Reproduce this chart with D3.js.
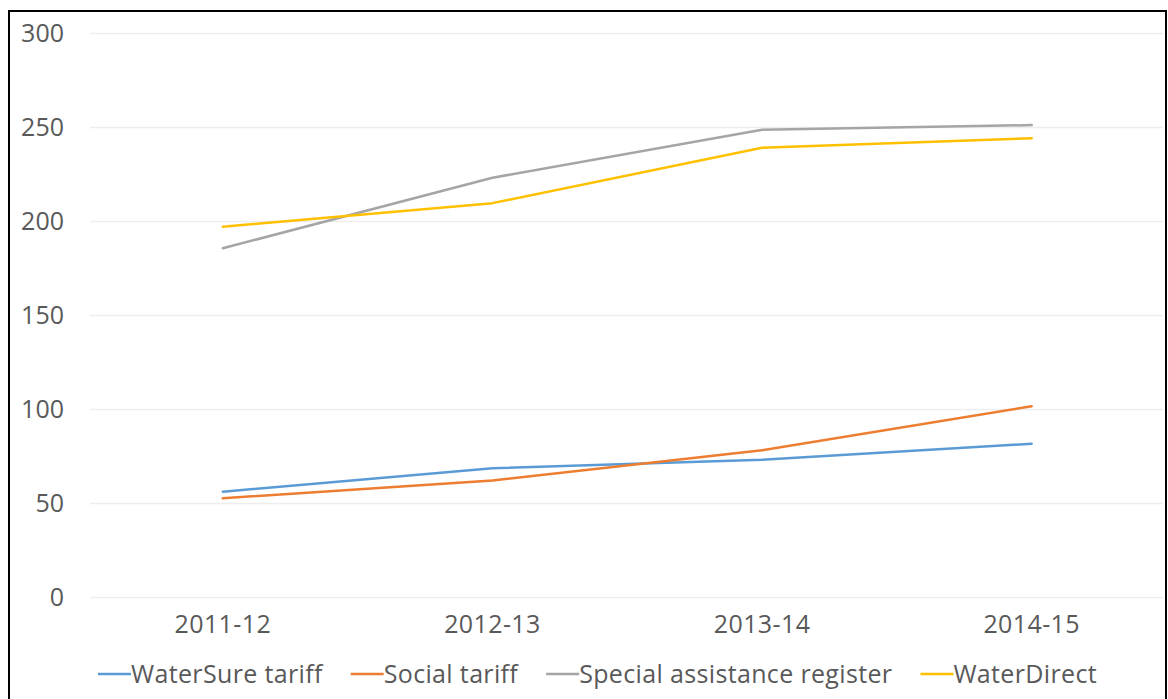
<!DOCTYPE html>
<html lang="en">
<head>
    <meta charset="UTF-8">
    <title>Line chart</title>
    <script src="https://cdn.jsdelivr.net/npm/d3@7"></script>
    <style>
        body { margin: 0; background: #ffffff; }
        svg text { font-family: "Open Sans", sans-serif; fill: #595959; }
    </style>
</head>
<body>
    <div id="canvas"></div>

    <script>

        // chart data
        const categories = ['2011-12', '2012-13', '2013-14', '2014-15'];
        const waterSure = [56, 68.5, 73, 81.5];
        const socialTariff = [52.5, 62, 78, 101.5];
        const specialRegister = [185.5, 223, 248.5, 251];
        const waterDirect = [197, 209.5, 239, 244];
        const yTicks = [0, 50, 100, 150, 200, 250, 300];

        const seriesList = [
            { name: 'WaterSure tariff', values: waterSure, color: '#5B9BD5' },
            { name: 'Social tariff', values: socialTariff, color: '#ED7D31' },
            { name: 'Special assistance register', values: specialRegister, color: '#A5A5A5' },
            { name: 'WaterDirect', values: waterDirect, color: '#FFC000' }
        ];

        const width = 1168;
        const height = 699;

        const svg = d3.select('#canvas')
            .append('svg')
            .attr('width', width)
            .attr('height', height);

        // outer frame
        svg.append('rect')
            .attr('x', 9)
            .attr('y', 11)
            .attr('width', 1157)
            .attr('height', 700)
            .attr('fill', 'none')
            .attr('stroke', '#000000')
            .attr('stroke-width', 2);

        const x = d3.scaleBand()
            .domain(categories)
            .range([88, 1166.5]);

        const y = d3.scaleLinear()
            .domain([0, 300])
            .range([597, 33]);

        // gridlines
        svg.append('g')
            .selectAll('line')
            .data(yTicks)
            .enter()
            .append('line')
            .attr('x1', 90)
            .attr('x2', 1163)
            .attr('y1', (d) => Math.round(y(d)) + 0.5)
            .attr('y2', (d) => Math.round(y(d)) + 0.5)
            .attr('stroke', '#EDEDED')
            .attr('stroke-width', 1.5);

        // y axis labels
        const yAxis = svg.append('g')
            .attr('transform', 'translate(64,0)')
            .call(d3.axisLeft(y).tickValues(yTicks).tickSize(0).tickPadding(0));
        yAxis.select('.domain').remove();
        yAxis.selectAll('text')
            .attr('font-size', 25)
            .attr('fill', '#595959')
            .style('font-family', '"Open Sans", sans-serif');

        // x axis labels
        const xAxis = svg.append('g')
            .attr('transform', 'translate(0,601)')
            .call(d3.axisBottom(x).tickSize(0).tickPadding(14));
        xAxis.select('.domain').remove();
        xAxis.selectAll('text')
            .attr('font-size', 25)
            .attr('letter-spacing', 0.4)
            .attr('fill', '#595959')
            .style('font-family', '"Open Sans", sans-serif');

        // series lines
        const line = d3.line()
            .x((d, i) => x(categories[i]) + x.bandwidth() / 2)
            .y((d) => y(d));

        svg.append('g')
            .selectAll('path')
            .data(seriesList)
            .enter()
            .append('path')
            .attr('d', (d) => line(d.values))
            .attr('fill', 'none')
            .attr('stroke', (d) => d.color)
            .attr('stroke-width', 2.5)
            .attr('stroke-linejoin', 'round')
            .attr('stroke-linecap', 'round');

        // legend
        const legend = svg.append('g');
        let legendX = 98;
        const legendY = 674;

        for (const s of seriesList) {
            legend.append('line')
                .attr('x1', legendX)
                .attr('x2', legendX + 33)
                .attr('y1', legendY)
                .attr('y2', legendY)
                .attr('stroke', s.color)
                .attr('stroke-width', 2.5);

            const label = legend.append('text')
                .attr('x', legendX + 33)
                .attr('y', legendY + 9)
                .attr('font-size', 25)
                .attr('letter-spacing', 0.35)
                .text(s.name);

            legendX += 33 + label.node().getComputedTextLength() + 28;
        }

    </script>
</body>
</html>
